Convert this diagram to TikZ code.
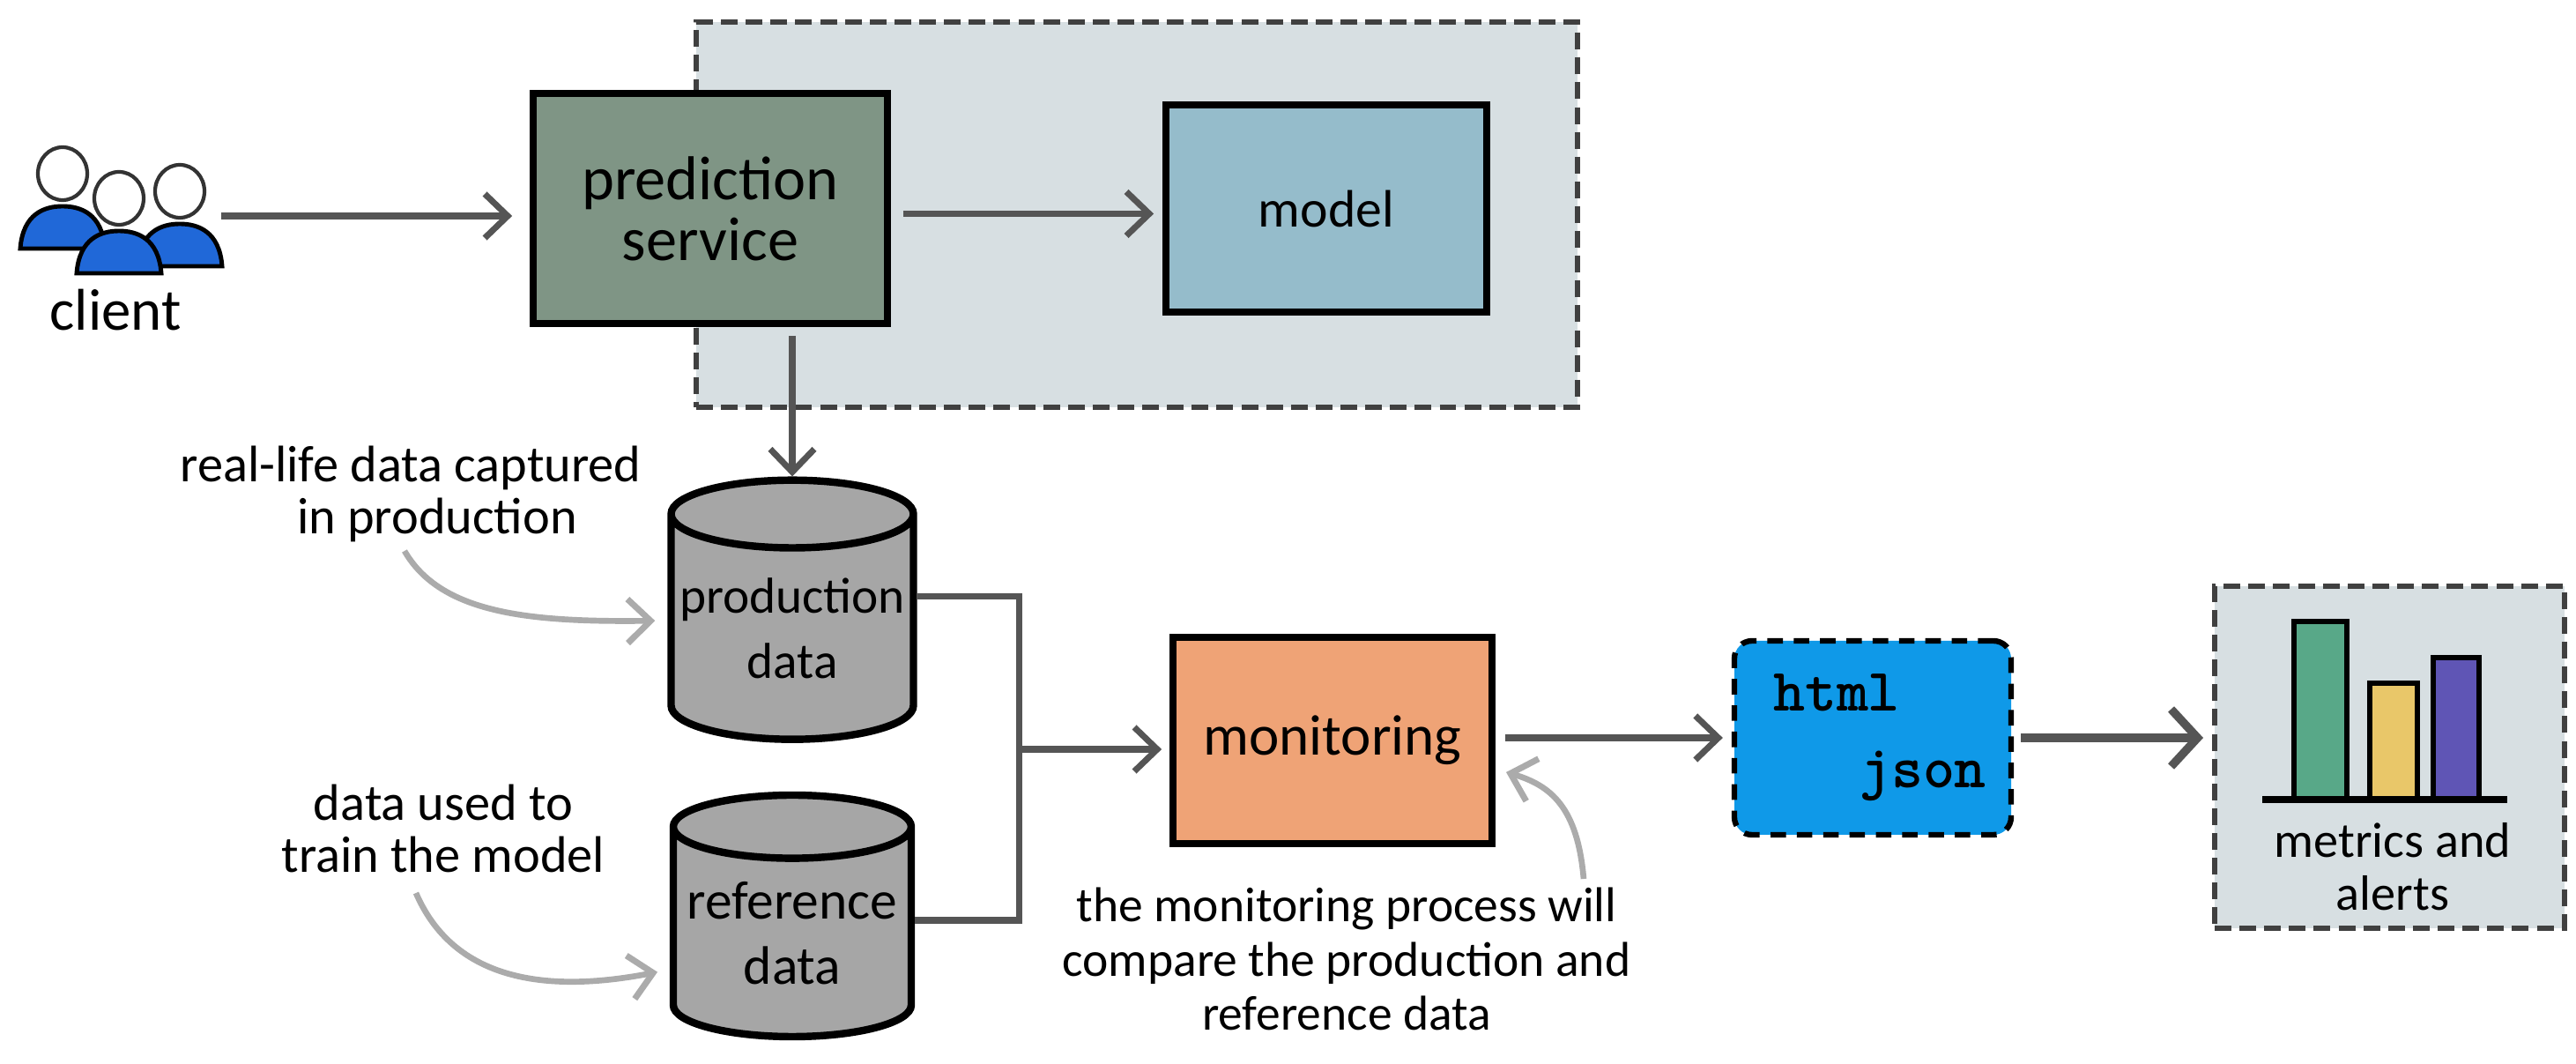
\documentclass[tikz,border=0pt]{standalone}
\usepackage{fontspec}
\setmainfont{Carlito}
\usepackage{tikz}
\usetikzlibrary{arrows.meta,positioning,calc,shapes.geometric}
\definecolor{panelgray}{HTML}{D7DFE2}
\definecolor{predgreen}{HTML}{7F9585}
\definecolor{modelblue}{HTML}{95BCCB}
\definecolor{monorange}{HTML}{EFA376}
\definecolor{reportblue}{HTML}{0F99E8}
\definecolor{storegray}{HTML}{A6A6A6}
\definecolor{clientblue}{HTML}{2068D8}
\definecolor{flowgray}{HTML}{555555}
\definecolor{notegray}{HTML}{ABABAB}
\definecolor{bargreen}{HTML}{58A888}
\definecolor{baryellow}{HTML}{E9C769}
\definecolor{barpurple}{HTML}{5F55B5}
\tikzset{
  panel/.style={draw=black!75,fill=panelgray,line width=1.7pt,dash pattern=on 5.4pt off 2.6pt},
  svcbox/.style={draw=black,line width=2.2pt,align=center,font=\fontsize{18.5}{19.6}\selectfont},
  store/.style={draw=black,fill=storegray,line width=2.4pt,cylinder,shape border rotate=90,aspect=0.3,
    align=center,inner sep=0pt,font=\fontsize{16.3}{21}\selectfont},
  flow/.style={draw=flowgray,line width=2pt},
  note/.style={draw=notegray,line width=1.9pt},
  notetext/.style={align=center,inner sep=0pt,font=\fontsize{16.6}{16.8}\selectfont},
  >={Straight Barb[length=2.6mm,width=5mm,line width=2pt]}
}
\begin{document}
\begin{tikzpicture}[scale=1.0]
  \useasboundingbox (0,0) rectangle (29.23,12.06);
  \node[panel,minimum width=10cm,minimum height=4.37cm] (panel) at (12.90,9.625) {};
  \node[svcbox,fill=predgreen,minimum width=4.02cm,minimum height=2.61cm,font=\fontsize{20}{19.6}\selectfont] (prediction) at (8.06,9.695) {prediction\\service};
  \node[svcbox,fill=modelblue,minimum width=3.64cm,minimum height=2.35cm,font=\fontsize{17}{19}\selectfont] (model) at (15.05,9.695) {model};
  \node[svcbox,fill=monorange,minimum width=3.62cm,minimum height=2.34cm] (monitoring) at (15.12,3.66) {monitoring};
  \node[store,minimum width=2.75cm,minimum height=2.94cm] (production) at (8.99,4.93) {production\\data};
  \node[store,minimum width=2.70cm,minimum height=2.74cm,font=\fontsize{17.5}{21}\selectfont] (reference) at (8.99,1.47) {reference\\data};
  \node[draw=black,fill=reportblue,line width=1.8pt,dash pattern=on 5pt off 3.5pt,rounded corners=0.2cm,
    minimum width=3.14cm,minimum height=2.20cm] (report) at (21.25,3.69) {};
  \node[font=\ttfamily\bfseries\fontsize{19.5}{22}\selectfont,inner sep=0pt] (html) at (20.84,4.20) {html};
  \node[font=\ttfamily\bfseries\fontsize{19.5}{22}\selectfont,inner sep=0pt] (json) at (21.82,3.26) {json};
  \node[panel,minimum width=3.97cm,minimum height=3.88cm] (metrics) at (27.115,3.47) {};
  \node[notetext,font=\fontsize{16}{17}\selectfont] (metricslabel) at (27.15,2.23) {metrics and\\alerts};
  \node[notetext,font=\fontsize{19}{19}\selectfont] (clientlabel) at (1.31,8.54) {client};
  \node[minimum width=2.24cm,minimum height=1.4cm,inner sep=0pt] (clients) at (1.38,9.61) {};
  \node[notetext] (prodnote) at (4.66,6.46) {real-life data captured\\\hspace*{0.6cm}in production};
  \node[notetext] (refnote) at (5.03,2.66) {data used to\\train the model};
  \node[notetext,font=\fontsize{15.8}{17.6}\selectfont] (monnote) at (15.28,1.18) {the monitoring process will\\compare the production and\\reference data};
  \foreach \hx/\hy in {0.71/10.09,2.04/9.89,1.35/9.81} {
    \draw[black!80,fill=white,line width=1.2pt] (\hx,\hy) ellipse (0.28 and 0.30);
    \draw[black,fill=clientblue,line width=1.4pt,shift={(\hx,\hy)}] (-0.48,-0.85) .. controls (-0.45,-0.45) and (-0.2,-0.37) .. (0,-0.37)
      .. controls (0.2,-0.37) and (0.45,-0.45) .. (0.48,-0.85) -- cycle;
  }
  \foreach \bx/\bw/\btop/\bcol in {26.03/0.60/5.01/bargreen,26.89/0.54/4.31/baryellow,27.61/0.52/4.60/barpurple} {
    \draw[black,fill=\bcol,line width=1.8pt] (\bx,2.99) rectangle ++(\bw,\btop-2.99);
  }
  \draw[black,line width=2.2pt] (25.67,2.99) -- (28.45,2.99);
  \draw[flow,->,shorten >=0.2cm] (clients.east) -- (clients.east -| prediction.west);
  \draw[flow,->,shorten <=0.14cm,shorten >=0.1cm] ([yshift=-0.06cm]prediction.east) -- ([yshift=-0.06cm]model.west);
  \draw[flow,->,shorten <=0.1cm] (production.north |- prediction.south) -- (production.north);
  \coordinate (merge) at ($(monitoring.west)+(-1.71,-0.1)$);
  \draw[flow] ([yshift=0.36cm]production.east) -| (merge);
  \draw[flow] ([yshift=0.15cm]reference.east) -| (merge);
  \draw[flow,->,shorten >=0.09cm] (merge) -- (merge -| monitoring.west);
  \draw[flow,->,shorten <=0.11cm,shorten >=0.1cm] (monitoring.east |- report.west) -- (report.west);
  \draw[flow,line width=2.7pt,-{Straight Barb[length=3mm,width=6.5mm,line width=2.7pt]},shorten <=0.08cm,shorten >=0.1cm] (report.east) -- (report.east -| metrics.west);
  \coordinate (prodstart) at (4.59,5.81);
  \coordinate (refstart) at (4.72,1.93);
  \coordinate (monstart) at (17.97,2.09);
  \coordinate (monend) at (17.09,3.30);
  \draw[note,->,shorten >=0.14cm] (prodstart) .. controls (5.0,5.1) and (6.0,5.0) .. ([yshift=0.09cm]production.west);
  \draw[note,->,shorten >=0.14cm] (refstart) .. controls (5.1,1.05) and (6.0,0.75) .. ([yshift=-0.41cm]reference.west);
  \draw[note,->] (monstart) .. controls (17.9,2.9) and (17.6,3.15) .. (monend);
\end{tikzpicture}
\end{document}
